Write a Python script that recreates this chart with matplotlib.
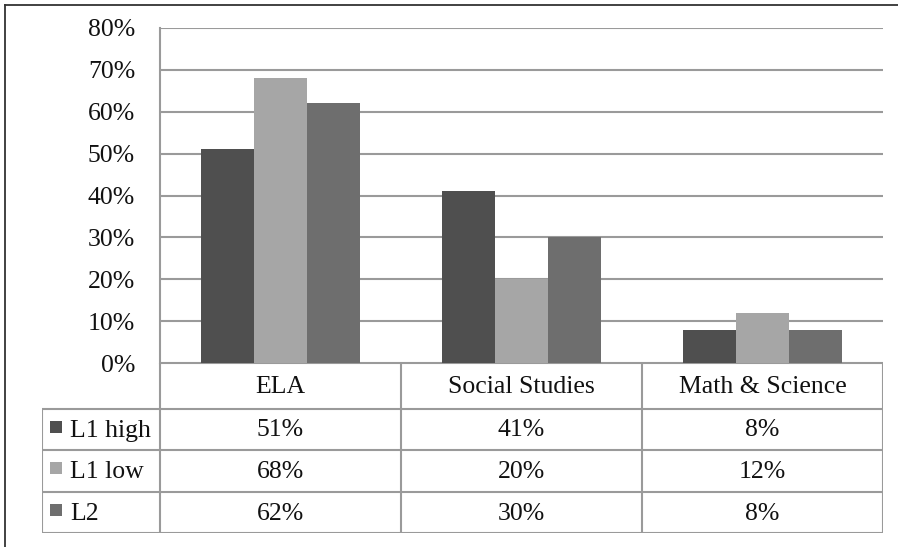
import matplotlib
matplotlib.use("Agg")
import matplotlib.pyplot as plt
from matplotlib.patches import Rectangle
from matplotlib.lines import Line2D

categories = ["ELA", "Social Studies", "Math & Science"]
series_names = ["L1 high", "L1 low", "L2"]
l1_high = [51, 41, 8]
l1_low = [68, 20, 12]
l2 = [62, 30, 8]
series_colors = ["#4f4f4f", "#a6a6a6", "#6e6e6e"]
y_ticks = [0, 10, 20, 30, 40, 50, 60, 70, 80]

plt.rcParams['font.family'] = ['Liberation Serif', 'DejaVu Serif']
FS = 18.5
TXT = "#111111"
GRID = "#9a9a9a"

W, H = 898, 547
fig = plt.figure(figsize=(W / 100, H / 100), dpi=100)

# outer frame (top and left edges only visible in the picture)
fig.add_artist(Line2D([5 / W, 5 / W], [0, 1 - 5 / H], transform=fig.transFigure, color="#333333", lw=1.3))
fig.add_artist(Line2D([5 / W, 1], [1 - 5 / H, 1 - 5 / H], transform=fig.transFigure, color="#333333", lw=1.3))

# bar chart axes
x0, x1 = 160, 883
ytop, ybot = 28, 363
ax = fig.add_axes([x0 / W, 1 - ybot / H, (x1 - x0) / W, (ybot - ytop) / H])
series = [l1_high, l1_low, l2]
bw = 0.22
for i, (vals, col) in enumerate(zip(series, series_colors)):
    xs = [c + (i - 1) * bw for c in range(len(categories))]
    ax.bar(xs, vals, width=bw, color=col, zorder=3)
ax.set_xlim(-0.5, len(categories) - 0.5)
ax.set_ylim(0, 80)
ax.set_yticks(y_ticks)
ax.set_yticklabels([f"{t}%" for t in y_ticks], fontsize=FS, color=TXT)
ax.tick_params(axis='y', length=0, pad=18)
ax.set_xticks([])
ax.yaxis.grid(True, color=GRID, lw=1.5, zorder=0)
for s in ["top", "right", "bottom"]:
    ax.spines[s].set_visible(False)
ax.spines["left"].set_color(GRID)
ax.spines["left"].set_linewidth(1.5)

# data table below
tab_left = 42
label_w = (x0 - tab_left) / ((x1 - x0) / len(categories))
px = label_w / (x0 - tab_left)
row_edges = [0, 46, 87, 129, 170]
tab = fig.add_axes([tab_left / W, 1 - (ybot + row_edges[-1]) / H,
                    (x1 - tab_left) / W, row_edges[-1] / H])
tab.set_xlim(-0.5 - label_w, len(categories) - 0.5)
tab.set_ylim(row_edges[-1], 0)
tab.axis("off")
n = len(categories)
lkw = dict(color=GRID, lw=1.5, solid_capstyle="butt")
# horizontal lines
tab.plot([-0.5, n - 0.5], [row_edges[0]] * 2, **lkw)
for y in row_edges[1:]:
    tab.plot([-0.5 - label_w, n - 0.5], [y, y], **lkw)
# vertical lines
tab.plot([-0.5 - label_w] * 2, [row_edges[1], row_edges[-1]], **lkw)
for k in range(n + 1):
    tab.plot([k - 0.5] * 2, [row_edges[0], row_edges[-1]], **lkw)

for j, cat in enumerate(categories):
    tab.text(j, (row_edges[0] + row_edges[1]) / 2 + 1, cat, ha="center", va="center",
             fontsize=FS, color=TXT)
for i, (name, vals, col) in enumerate(zip(series_names, series, series_colors)):
    yc = (row_edges[i + 1] + row_edges[i + 2]) / 2
    for j, v in enumerate(vals):
        tab.text(j, yc + 1, f"{v}%", ha="center", va="center", fontsize=FS, color=TXT)
    tab.add_patch(Rectangle((-0.5 - label_w + 8 * px, yc - 9), 12 * px, 12,
                            color=col, lw=0))
    tab.text(-0.5 - label_w + 28 * px, yc + 1, name, ha="left",
             va="center", fontsize=FS, color=TXT)

fig.savefig("out.png", dpi=100)
